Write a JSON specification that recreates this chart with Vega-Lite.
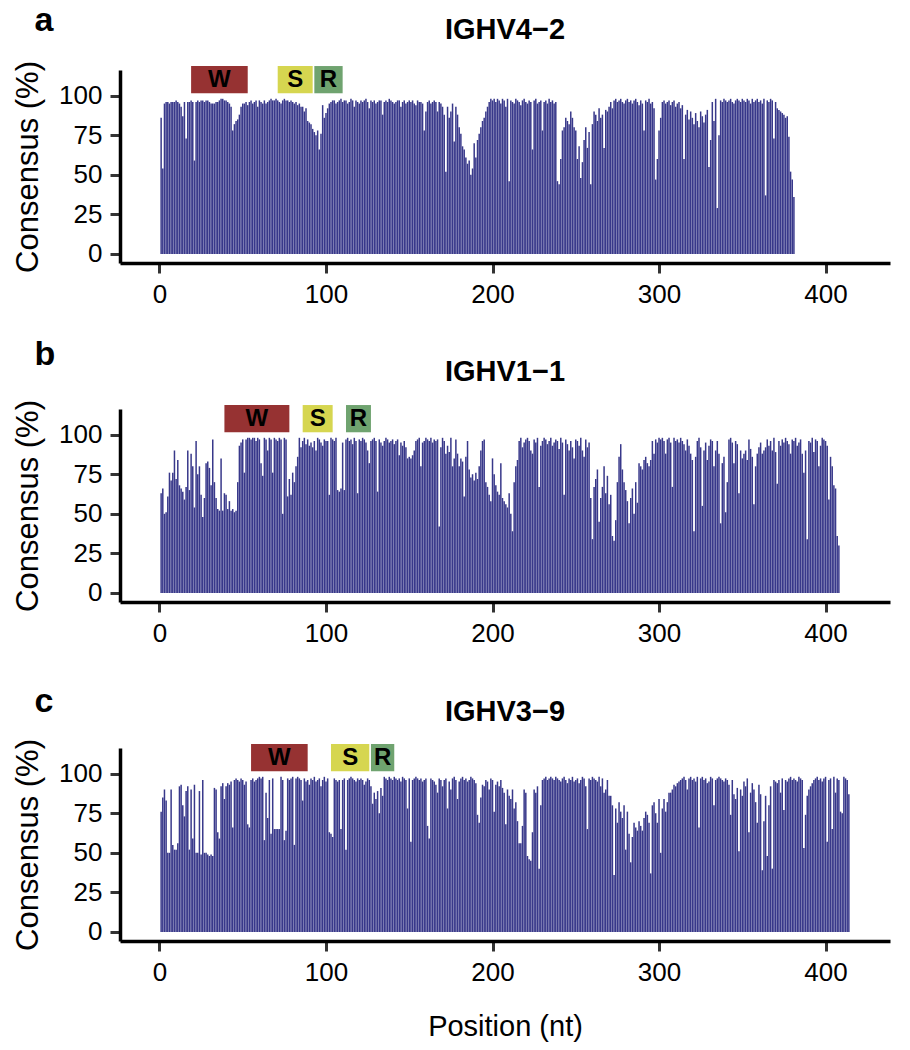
{
"$schema": "https://vega.github.io/schema/vega-lite/v6.json",
"background": "white",
"padding": {"left": 12, "top": 4, "right": 10, "bottom": 4},
"config": {
 "font": "Liberation Sans",
 "view": {"stroke": null},
 "axis": {"grid": false, "domainColor": "black", "domainWidth": 3.5, "tickColor": "#333333", "tickWidth": 3, "tickSize": 10, "labelFontSize": 26, "labelColor": "black", "labelPadding": 8, "labelFlush": false, "titleFontSize": 31, "titleFontWeight": "normal", "titleColor": "black"}
},
"datasets": {
"regions": [{"g":"a","l":"W","s":19,"e":53},{"g":"a","l":"S","s":71,"e":92},{"g":"a","l":"R","s":93,"e":110},{"g":"b","l":"W","s":39,"e":78},{"g":"b","l":"S","s":86,"e":104},{"g":"b","l":"R","s":112,"e":127},{"g":"c","l":"W","s":55,"e":89},{"g":"c","l":"S","s":103,"e":126},{"g":"c","l":"R","s":127,"e":141}],
"labels": [{"g":"a","tag":"a","gene":"IGHV4−2"},{"g":"b","tag":"b","gene":"IGHV1−1"},{"g":"c","tag":"c","gene":"IGHV3−9"}],
"a": [
{"p":1,"v":86},{"p":2,"v":54},{"p":3,"v":95},{"p":4,"v":96},{"p":5,"v":96},{"p":6,"v":95},{"p":7,"v":96},{"p":8,"v":96},{"p":9,"v":96},{"p":10,"v":97},
{"p":11,"v":96},{"p":12,"v":95},{"p":13,"v":93},{"p":14,"v":87},{"p":15,"v":96},{"p":16,"v":73},{"p":17,"v":96},{"p":18,"v":96},{"p":19,"v":97},{"p":20,"v":96},
{"p":21,"v":59},{"p":22,"v":96},{"p":23,"v":97},{"p":24,"v":96},{"p":25,"v":97},{"p":26,"v":97},{"p":27,"v":96},{"p":28,"v":97},{"p":29,"v":97},{"p":30,"v":96},
{"p":31,"v":95},{"p":32,"v":95},{"p":33,"v":95},{"p":34,"v":96},{"p":35,"v":96},{"p":36,"v":97},{"p":37,"v":98},{"p":38,"v":98},{"p":39,"v":97},{"p":40,"v":97},
{"p":41,"v":96},{"p":42,"v":95},{"p":43,"v":93},{"p":44,"v":78},{"p":45,"v":82},{"p":46,"v":84},{"p":47,"v":85},{"p":48,"v":88},{"p":49,"v":93},{"p":50,"v":95},
{"p":51,"v":95},{"p":52,"v":96},{"p":53,"v":94},{"p":54,"v":96},{"p":55,"v":97},{"p":56,"v":95},{"p":57,"v":96},{"p":58,"v":97},{"p":59,"v":93},{"p":60,"v":97},
{"p":61,"v":96},{"p":62,"v":95},{"p":63,"v":97},{"p":64,"v":95},{"p":65,"v":96},{"p":66,"v":97},{"p":67,"v":98},{"p":68,"v":97},{"p":69,"v":97},{"p":70,"v":98},
{"p":71,"v":97},{"p":72,"v":96},{"p":73,"v":95},{"p":74,"v":97},{"p":75,"v":98},{"p":76,"v":97},{"p":77,"v":97},{"p":78,"v":96},{"p":79,"v":97},{"p":80,"v":96},
{"p":81,"v":95},{"p":82,"v":96},{"p":83,"v":94},{"p":84,"v":95},{"p":85,"v":93},{"p":86,"v":93},{"p":87,"v":90},{"p":88,"v":92},{"p":89,"v":84},{"p":90,"v":83},
{"p":91,"v":82},{"p":92,"v":79},{"p":93,"v":77},{"p":94,"v":75},{"p":95,"v":78},{"p":96,"v":66},{"p":97,"v":76},{"p":98,"v":94},{"p":99,"v":86},{"p":100,"v":89},
{"p":101,"v":92},{"p":102,"v":95},{"p":103,"v":96},{"p":104,"v":97},{"p":105,"v":97},{"p":106,"v":95},{"p":107,"v":96},{"p":108,"v":97},{"p":109,"v":98},{"p":110,"v":96},
{"p":111,"v":97},{"p":112,"v":97},{"p":113,"v":95},{"p":114,"v":96},{"p":115,"v":98},{"p":116,"v":97},{"p":117,"v":93},{"p":118,"v":97},{"p":119,"v":96},{"p":120,"v":95},
{"p":121,"v":97},{"p":122,"v":96},{"p":123,"v":97},{"p":124,"v":98},{"p":125,"v":96},{"p":126,"v":92},{"p":127,"v":97},{"p":128,"v":96},{"p":129,"v":97},{"p":130,"v":95},
{"p":131,"v":96},{"p":132,"v":97},{"p":133,"v":97},{"p":134,"v":88},{"p":135,"v":96},{"p":136,"v":97},{"p":137,"v":96},{"p":138,"v":98},{"p":139,"v":97},{"p":140,"v":96},
{"p":141,"v":95},{"p":142,"v":96},{"p":143,"v":97},{"p":144,"v":97},{"p":145,"v":93},{"p":146,"v":96},{"p":147,"v":97},{"p":148,"v":95},{"p":149,"v":96},{"p":150,"v":97},
{"p":151,"v":96},{"p":152,"v":97},{"p":153,"v":95},{"p":154,"v":94},{"p":155,"v":97},{"p":156,"v":96},{"p":157,"v":96},{"p":158,"v":95},{"p":159,"v":78},{"p":160,"v":90},
{"p":161,"v":96},{"p":162,"v":97},{"p":163,"v":95},{"p":164,"v":96},{"p":165,"v":97},{"p":166,"v":96},{"p":167,"v":90},{"p":168,"v":96},{"p":169,"v":95},{"p":170,"v":93},
{"p":171,"v":88},{"p":172,"v":52},{"p":173,"v":93},{"p":174,"v":86},{"p":175,"v":90},{"p":176,"v":95},{"p":177,"v":71},{"p":178,"v":93},{"p":179,"v":88},{"p":180,"v":80},
{"p":181,"v":76},{"p":182,"v":68},{"p":183,"v":66},{"p":184,"v":61},{"p":185,"v":57},{"p":186,"v":59},{"p":187,"v":50},{"p":188,"v":54},{"p":189,"v":70},{"p":190,"v":61},
{"p":191,"v":72},{"p":192,"v":76},{"p":193,"v":80},{"p":194,"v":84},{"p":195,"v":86},{"p":196,"v":90},{"p":197,"v":93},{"p":198,"v":96},{"p":199,"v":98},{"p":200,"v":97},
{"p":201,"v":98},{"p":202,"v":96},{"p":203,"v":98},{"p":204,"v":97},{"p":205,"v":95},{"p":206,"v":98},{"p":207,"v":97},{"p":208,"v":93},{"p":209,"v":98},{"p":210,"v":46},
{"p":211,"v":97},{"p":212,"v":96},{"p":213,"v":95},{"p":214,"v":98},{"p":215,"v":97},{"p":216,"v":96},{"p":217,"v":94},{"p":218,"v":97},{"p":219,"v":98},{"p":220,"v":96},
{"p":221,"v":95},{"p":222,"v":97},{"p":223,"v":96},{"p":224,"v":66},{"p":225,"v":97},{"p":226,"v":98},{"p":227,"v":95},{"p":228,"v":96},{"p":229,"v":97},{"p":230,"v":78},
{"p":231,"v":96},{"p":232,"v":97},{"p":233,"v":95},{"p":234,"v":98},{"p":235,"v":96},{"p":236,"v":97},{"p":237,"v":95},{"p":238,"v":96},{"p":239,"v":46},{"p":240,"v":44},
{"p":241,"v":60},{"p":242,"v":78},{"p":243,"v":80},{"p":244,"v":86},{"p":245,"v":84},{"p":246,"v":82},{"p":247,"v":90},{"p":248,"v":86},{"p":249,"v":80},{"p":250,"v":78},
{"p":251,"v":60},{"p":252,"v":68},{"p":253,"v":48},{"p":254,"v":58},{"p":255,"v":72},{"p":256,"v":80},{"p":257,"v":67},{"p":258,"v":77},{"p":259,"v":44},{"p":260,"v":82},
{"p":261,"v":90},{"p":262,"v":88},{"p":263,"v":84},{"p":264,"v":92},{"p":265,"v":86},{"p":266,"v":88},{"p":267,"v":67},{"p":268,"v":91},{"p":269,"v":90},{"p":270,"v":93},
{"p":271,"v":96},{"p":272,"v":92},{"p":273,"v":97},{"p":274,"v":98},{"p":275,"v":96},{"p":276,"v":97},{"p":277,"v":98},{"p":278,"v":96},{"p":279,"v":95},{"p":280,"v":97},
{"p":281,"v":98},{"p":282,"v":96},{"p":283,"v":97},{"p":284,"v":95},{"p":285,"v":97},{"p":286,"v":98},{"p":287,"v":96},{"p":288,"v":94},{"p":289,"v":97},{"p":290,"v":95},
{"p":291,"v":78},{"p":292,"v":97},{"p":293,"v":96},{"p":294,"v":98},{"p":295,"v":95},{"p":296,"v":96},{"p":297,"v":92},{"p":298,"v":47},{"p":299,"v":60},{"p":300,"v":78},
{"p":301,"v":86},{"p":302,"v":96},{"p":303,"v":97},{"p":304,"v":95},{"p":305,"v":96},{"p":306,"v":97},{"p":307,"v":94},{"p":308,"v":96},{"p":309,"v":97},{"p":310,"v":93},
{"p":311,"v":95},{"p":312,"v":96},{"p":313,"v":92},{"p":314,"v":94},{"p":315,"v":60},{"p":316,"v":88},{"p":317,"v":91},{"p":318,"v":85},{"p":319,"v":90},{"p":320,"v":86},
{"p":321,"v":82},{"p":322,"v":89},{"p":323,"v":84},{"p":324,"v":80},{"p":325,"v":90},{"p":326,"v":87},{"p":327,"v":83},{"p":328,"v":88},{"p":329,"v":91},{"p":330,"v":55},
{"p":331,"v":72},{"p":332,"v":96},{"p":333,"v":84},{"p":334,"v":98},{"p":335,"v":29},{"p":336,"v":75},{"p":337,"v":97},{"p":338,"v":96},{"p":339,"v":98},{"p":340,"v":97},
{"p":341,"v":96},{"p":342,"v":97},{"p":343,"v":98},{"p":344,"v":96},{"p":345,"v":95},{"p":346,"v":97},{"p":347,"v":98},{"p":348,"v":97},{"p":349,"v":96},{"p":350,"v":98},
{"p":351,"v":97},{"p":352,"v":96},{"p":353,"v":98},{"p":354,"v":97},{"p":355,"v":95},{"p":356,"v":98},{"p":357,"v":96},{"p":358,"v":97},{"p":359,"v":98},{"p":360,"v":96},
{"p":361,"v":97},{"p":362,"v":95},{"p":363,"v":98},{"p":364,"v":37},{"p":365,"v":97},{"p":366,"v":96},{"p":367,"v":98},{"p":368,"v":97},{"p":369,"v":73},{"p":370,"v":96},
{"p":371,"v":92},{"p":372,"v":91},{"p":373,"v":90},{"p":374,"v":89},{"p":375,"v":88},{"p":376,"v":86},{"p":377,"v":87},{"p":378,"v":74},{"p":379,"v":52},{"p":380,"v":47},{"p":381,"v":36}
],
"b": [
{"p":1,"v":63},{"p":2,"v":66},{"p":3,"v":50},{"p":4,"v":51},{"p":5,"v":61},{"p":6,"v":76},{"p":7,"v":71},{"p":8,"v":76},{"p":9,"v":90},{"p":10,"v":72},
{"p":11,"v":84},{"p":12,"v":68},{"p":13,"v":66},{"p":14,"v":64},{"p":15,"v":59},{"p":16,"v":67},{"p":17,"v":90},{"p":18,"v":65},{"p":19,"v":88},{"p":20,"v":80},
{"p":21,"v":54},{"p":22,"v":96},{"p":23,"v":75},{"p":24,"v":80},{"p":25,"v":62},{"p":26,"v":48},{"p":27,"v":60},{"p":28,"v":82},{"p":29,"v":83},{"p":30,"v":79},
{"p":31,"v":68},{"p":32,"v":97},{"p":33,"v":70},{"p":34,"v":60},{"p":35,"v":53},{"p":36,"v":52},{"p":37,"v":85},{"p":38,"v":52},{"p":39,"v":63},{"p":40,"v":62},
{"p":41,"v":53},{"p":42,"v":58},{"p":43,"v":52},{"p":44,"v":53},{"p":45,"v":51},{"p":46,"v":52},{"p":47,"v":70},{"p":48,"v":93},{"p":49,"v":95},{"p":50,"v":97},
{"p":51,"v":76},{"p":52,"v":97},{"p":53,"v":98},{"p":54,"v":98},{"p":55,"v":97},{"p":56,"v":98},{"p":57,"v":98},{"p":58,"v":96},{"p":59,"v":98},{"p":60,"v":97},
{"p":61,"v":82},{"p":62,"v":74},{"p":63,"v":98},{"p":64,"v":97},{"p":65,"v":90},{"p":66,"v":98},{"p":67,"v":97},{"p":68,"v":76},{"p":69,"v":98},{"p":70,"v":97},
{"p":71,"v":96},{"p":72,"v":98},{"p":73,"v":97},{"p":74,"v":50},{"p":75,"v":98},{"p":76,"v":97},{"p":77,"v":61},{"p":78,"v":72},{"p":79,"v":62},{"p":80,"v":76},
{"p":81,"v":70},{"p":82,"v":80},{"p":83,"v":86},{"p":84,"v":98},{"p":85,"v":92},{"p":86,"v":96},{"p":87,"v":98},{"p":88,"v":94},{"p":89,"v":97},{"p":90,"v":93},
{"p":91,"v":95},{"p":92,"v":92},{"p":93,"v":96},{"p":94,"v":90},{"p":95,"v":98},{"p":96,"v":97},{"p":97,"v":95},{"p":98,"v":93},{"p":99,"v":97},{"p":100,"v":96},
{"p":101,"v":96},{"p":102,"v":62},{"p":103,"v":98},{"p":104,"v":97},{"p":105,"v":96},{"p":106,"v":98},{"p":107,"v":65},{"p":108,"v":64},{"p":109,"v":66},{"p":110,"v":95},
{"p":111,"v":65},{"p":112,"v":97},{"p":113,"v":98},{"p":114,"v":96},{"p":115,"v":97},{"p":116,"v":94},{"p":117,"v":98},{"p":118,"v":96},{"p":119,"v":63},{"p":120,"v":97},
{"p":121,"v":96},{"p":122,"v":98},{"p":123,"v":97},{"p":124,"v":95},{"p":125,"v":90},{"p":126,"v":82},{"p":127,"v":96},{"p":128,"v":97},{"p":129,"v":98},{"p":130,"v":96},
{"p":131,"v":64},{"p":132,"v":97},{"p":133,"v":95},{"p":134,"v":93},{"p":135,"v":96},{"p":136,"v":98},{"p":137,"v":97},{"p":138,"v":95},{"p":139,"v":96},{"p":140,"v":97},
{"p":141,"v":94},{"p":142,"v":96},{"p":143,"v":97},{"p":144,"v":87},{"p":145,"v":95},{"p":146,"v":93},{"p":147,"v":96},{"p":148,"v":92},{"p":149,"v":85},{"p":150,"v":86},
{"p":151,"v":85},{"p":152,"v":87},{"p":153,"v":90},{"p":154,"v":96},{"p":155,"v":97},{"p":156,"v":98},{"p":157,"v":80},{"p":158,"v":95},{"p":159,"v":96},{"p":160,"v":98},
{"p":161,"v":97},{"p":162,"v":96},{"p":163,"v":98},{"p":164,"v":95},{"p":165,"v":97},{"p":166,"v":96},{"p":167,"v":97},{"p":168,"v":42},{"p":169,"v":92},{"p":170,"v":98},
{"p":171,"v":96},{"p":172,"v":88},{"p":173,"v":93},{"p":174,"v":89},{"p":175,"v":98},{"p":176,"v":80},{"p":177,"v":85},{"p":178,"v":97},{"p":179,"v":88},{"p":180,"v":80},
{"p":181,"v":85},{"p":182,"v":83},{"p":183,"v":61},{"p":184,"v":86},{"p":185,"v":96},{"p":186,"v":78},{"p":187,"v":73},{"p":188,"v":75},{"p":189,"v":71},{"p":190,"v":76},
{"p":191,"v":72},{"p":192,"v":80},{"p":193,"v":90},{"p":194,"v":96},{"p":195,"v":97},{"p":196,"v":70},{"p":197,"v":67},{"p":198,"v":62},{"p":199,"v":58},{"p":200,"v":85},
{"p":201,"v":75},{"p":202,"v":68},{"p":203,"v":64},{"p":204,"v":62},{"p":205,"v":82},{"p":206,"v":60},{"p":207,"v":58},{"p":208,"v":56},{"p":209,"v":54},{"p":210,"v":63},
{"p":211,"v":50},{"p":212,"v":39},{"p":213,"v":70},{"p":214,"v":80},{"p":215,"v":84},{"p":216,"v":96},{"p":217,"v":98},{"p":218,"v":92},{"p":219,"v":95},{"p":220,"v":97},
{"p":221,"v":98},{"p":222,"v":96},{"p":223,"v":90},{"p":224,"v":88},{"p":225,"v":97},{"p":226,"v":95},{"p":227,"v":98},{"p":228,"v":67},{"p":229,"v":93},{"p":230,"v":96},
{"p":231,"v":98},{"p":232,"v":97},{"p":233,"v":94},{"p":234,"v":96},{"p":235,"v":98},{"p":236,"v":93},{"p":237,"v":95},{"p":238,"v":97},{"p":239,"v":96},{"p":240,"v":91},
{"p":241,"v":98},{"p":242,"v":95},{"p":243,"v":62},{"p":244,"v":97},{"p":245,"v":94},{"p":246,"v":90},{"p":247,"v":96},{"p":248,"v":92},{"p":249,"v":85},{"p":250,"v":97},
{"p":251,"v":96},{"p":252,"v":93},{"p":253,"v":98},{"p":254,"v":90},{"p":255,"v":86},{"p":256,"v":97},{"p":257,"v":92},{"p":258,"v":95},{"p":259,"v":60},{"p":260,"v":34},
{"p":261,"v":67},{"p":262,"v":72},{"p":263,"v":78},{"p":264,"v":45},{"p":265,"v":60},{"p":266,"v":67},{"p":267,"v":80},{"p":268,"v":63},{"p":269,"v":74},{"p":270,"v":56},
{"p":271,"v":62},{"p":272,"v":36},{"p":273,"v":33},{"p":274,"v":46},{"p":275,"v":70},{"p":276,"v":86},{"p":277,"v":94},{"p":278,"v":78},{"p":279,"v":70},{"p":280,"v":65},
{"p":281,"v":58},{"p":282,"v":44},{"p":283,"v":60},{"p":284,"v":66},{"p":285,"v":50},{"p":286,"v":70},{"p":287,"v":57},{"p":288,"v":82},{"p":289,"v":80},{"p":290,"v":78},
{"p":291,"v":84},{"p":292,"v":86},{"p":293,"v":82},{"p":294,"v":80},{"p":295,"v":84},{"p":296,"v":96},{"p":297,"v":88},{"p":298,"v":97},{"p":299,"v":95},{"p":300,"v":98},
{"p":301,"v":97},{"p":302,"v":98},{"p":303,"v":96},{"p":304,"v":88},{"p":305,"v":97},{"p":306,"v":98},{"p":307,"v":95},{"p":308,"v":67},{"p":309,"v":98},{"p":310,"v":96},
{"p":311,"v":97},{"p":312,"v":95},{"p":313,"v":98},{"p":314,"v":96},{"p":315,"v":94},{"p":316,"v":90},{"p":317,"v":97},{"p":318,"v":93},{"p":319,"v":88},{"p":320,"v":84},
{"p":321,"v":39},{"p":322,"v":86},{"p":323,"v":96},{"p":324,"v":98},{"p":325,"v":92},{"p":326,"v":55},{"p":327,"v":90},{"p":328,"v":95},{"p":329,"v":84},{"p":330,"v":93},
{"p":331,"v":97},{"p":332,"v":96},{"p":333,"v":80},{"p":334,"v":90},{"p":335,"v":96},{"p":336,"v":88},{"p":337,"v":44},{"p":338,"v":82},{"p":339,"v":86},{"p":340,"v":51},
{"p":341,"v":70},{"p":342,"v":97},{"p":343,"v":98},{"p":344,"v":95},{"p":345,"v":82},{"p":346,"v":96},{"p":347,"v":94},{"p":348,"v":63},{"p":349,"v":90},{"p":350,"v":85},
{"p":351,"v":88},{"p":352,"v":90},{"p":353,"v":84},{"p":354,"v":97},{"p":355,"v":91},{"p":356,"v":86},{"p":357,"v":56},{"p":358,"v":80},{"p":359,"v":88},{"p":360,"v":92},
{"p":361,"v":95},{"p":362,"v":88},{"p":363,"v":90},{"p":364,"v":92},{"p":365,"v":97},{"p":366,"v":93},{"p":367,"v":96},{"p":368,"v":90},{"p":369,"v":98},{"p":370,"v":89},
{"p":371,"v":69},{"p":372,"v":96},{"p":373,"v":93},{"p":374,"v":97},{"p":375,"v":95},{"p":376,"v":98},{"p":377,"v":96},{"p":378,"v":94},{"p":379,"v":88},{"p":380,"v":97},
{"p":381,"v":96},{"p":382,"v":98},{"p":383,"v":93},{"p":384,"v":95},{"p":385,"v":97},{"p":386,"v":88},{"p":387,"v":76},{"p":388,"v":90},{"p":389,"v":34},{"p":390,"v":96},
{"p":391,"v":95},{"p":392,"v":98},{"p":393,"v":89},{"p":394,"v":97},{"p":395,"v":96},{"p":396,"v":80},{"p":397,"v":93},{"p":398,"v":98},{"p":399,"v":97},{"p":400,"v":96},
{"p":401,"v":93},{"p":402,"v":59},{"p":403,"v":86},{"p":404,"v":80},{"p":405,"v":68},{"p":406,"v":66},{"p":407,"v":36},{"p":408,"v":30}
],
"c": [
{"p":1,"v":76},{"p":2,"v":85},{"p":3,"v":90},{"p":4,"v":83},{"p":5,"v":50},{"p":6,"v":50},{"p":7,"v":90},{"p":8,"v":55},{"p":9,"v":52},{"p":10,"v":52},
{"p":11,"v":56},{"p":12,"v":92},{"p":13,"v":93},{"p":14,"v":80},{"p":15,"v":73},{"p":16,"v":89},{"p":17,"v":92},{"p":18,"v":52},{"p":19,"v":90},{"p":20,"v":59},
{"p":21,"v":93},{"p":22,"v":50},{"p":23,"v":50},{"p":24,"v":89},{"p":25,"v":49},{"p":26,"v":96},{"p":27,"v":50},{"p":28,"v":50},{"p":29,"v":49},{"p":30,"v":48},
{"p":31,"v":49},{"p":32,"v":48},{"p":33,"v":91},{"p":34,"v":90},{"p":35,"v":63},{"p":36,"v":59},{"p":37,"v":92},{"p":38,"v":94},{"p":39,"v":84},{"p":40,"v":92},
{"p":41,"v":94},{"p":42,"v":93},{"p":43,"v":95},{"p":44,"v":66},{"p":45,"v":96},{"p":46,"v":97},{"p":47,"v":96},{"p":48,"v":95},{"p":49,"v":97},{"p":50,"v":96},
{"p":51,"v":93},{"p":52,"v":95},{"p":53,"v":68},{"p":54,"v":66},{"p":55,"v":96},{"p":56,"v":97},{"p":57,"v":95},{"p":58,"v":96},{"p":59,"v":97},{"p":60,"v":98},
{"p":61,"v":97},{"p":62,"v":98},{"p":63,"v":58},{"p":64,"v":88},{"p":65,"v":72},{"p":66,"v":96},{"p":67,"v":62},{"p":68,"v":97},{"p":69,"v":65},{"p":70,"v":65},
{"p":71,"v":65},{"p":72,"v":65},{"p":73,"v":98},{"p":74,"v":96},{"p":75,"v":58},{"p":76,"v":64},{"p":77,"v":97},{"p":78,"v":96},{"p":79,"v":97},{"p":80,"v":98},
{"p":81,"v":55},{"p":82,"v":97},{"p":83,"v":98},{"p":84,"v":97},{"p":85,"v":96},{"p":86,"v":83},{"p":87,"v":97},{"p":88,"v":95},{"p":89,"v":96},{"p":90,"v":93},
{"p":91,"v":97},{"p":92,"v":96},{"p":93,"v":98},{"p":94,"v":95},{"p":95,"v":96},{"p":96,"v":97},{"p":97,"v":92},{"p":98,"v":96},{"p":99,"v":98},{"p":100,"v":95},
{"p":101,"v":97},{"p":102,"v":63},{"p":103,"v":62},{"p":104,"v":60},{"p":105,"v":97},{"p":106,"v":96},{"p":107,"v":95},{"p":108,"v":96},{"p":109,"v":65},{"p":110,"v":96},
{"p":111,"v":97},{"p":112,"v":52},{"p":113,"v":96},{"p":114,"v":97},{"p":115,"v":98},{"p":116,"v":97},{"p":117,"v":96},{"p":118,"v":95},{"p":119,"v":97},{"p":120,"v":96},
{"p":121,"v":97},{"p":122,"v":96},{"p":123,"v":93},{"p":124,"v":95},{"p":125,"v":97},{"p":126,"v":96},{"p":127,"v":92},{"p":128,"v":81},{"p":129,"v":88},{"p":130,"v":84},
{"p":131,"v":89},{"p":132,"v":75},{"p":133,"v":91},{"p":134,"v":86},{"p":135,"v":98},{"p":136,"v":97},{"p":137,"v":96},{"p":138,"v":98},{"p":139,"v":97},{"p":140,"v":96},
{"p":141,"v":98},{"p":142,"v":97},{"p":143,"v":96},{"p":144,"v":97},{"p":145,"v":95},{"p":146,"v":98},{"p":147,"v":97},{"p":148,"v":96},{"p":149,"v":78},{"p":150,"v":97},
{"p":151,"v":57},{"p":152,"v":96},{"p":153,"v":97},{"p":154,"v":98},{"p":155,"v":97},{"p":156,"v":96},{"p":157,"v":97},{"p":158,"v":95},{"p":159,"v":96},{"p":160,"v":97},
{"p":161,"v":67},{"p":162,"v":59},{"p":163,"v":97},{"p":164,"v":96},{"p":165,"v":95},{"p":166,"v":93},{"p":167,"v":88},{"p":168,"v":97},{"p":169,"v":96},{"p":170,"v":92},
{"p":171,"v":96},{"p":172,"v":97},{"p":173,"v":78},{"p":174,"v":95},{"p":175,"v":90},{"p":176,"v":97},{"p":177,"v":98},{"p":178,"v":96},{"p":179,"v":84},{"p":180,"v":95},
{"p":181,"v":97},{"p":182,"v":98},{"p":183,"v":96},{"p":184,"v":97},{"p":185,"v":95},{"p":186,"v":96},{"p":187,"v":98},{"p":188,"v":97},{"p":189,"v":96},{"p":190,"v":94},
{"p":191,"v":74},{"p":192,"v":69},{"p":193,"v":85},{"p":194,"v":93},{"p":195,"v":92},{"p":196,"v":96},{"p":197,"v":95},{"p":198,"v":90},{"p":199,"v":97},{"p":200,"v":96},
{"p":201,"v":76},{"p":202,"v":93},{"p":203,"v":95},{"p":204,"v":92},{"p":205,"v":96},{"p":206,"v":91},{"p":207,"v":88},{"p":208,"v":68},{"p":209,"v":90},{"p":210,"v":86},
{"p":211,"v":84},{"p":212,"v":90},{"p":213,"v":78},{"p":214,"v":82},{"p":215,"v":70},{"p":216,"v":56},{"p":217,"v":56},{"p":218,"v":67},{"p":219,"v":90},{"p":220,"v":88},
{"p":221,"v":48},{"p":222,"v":46},{"p":223,"v":45},{"p":224,"v":63},{"p":225,"v":90},{"p":226,"v":88},{"p":227,"v":92},{"p":228,"v":40},{"p":229,"v":80},{"p":230,"v":96},
{"p":231,"v":97},{"p":232,"v":98},{"p":233,"v":96},{"p":234,"v":97},{"p":235,"v":98},{"p":236,"v":97},{"p":237,"v":96},{"p":238,"v":98},{"p":239,"v":97},{"p":240,"v":96},
{"p":241,"v":95},{"p":242,"v":97},{"p":243,"v":98},{"p":244,"v":96},{"p":245,"v":94},{"p":246,"v":97},{"p":247,"v":96},{"p":248,"v":98},{"p":249,"v":95},{"p":250,"v":96},
{"p":251,"v":97},{"p":252,"v":94},{"p":253,"v":96},{"p":254,"v":98},{"p":255,"v":97},{"p":256,"v":92},{"p":257,"v":65},{"p":258,"v":97},{"p":259,"v":96},{"p":260,"v":98},
{"p":261,"v":97},{"p":262,"v":96},{"p":263,"v":95},{"p":264,"v":98},{"p":265,"v":92},{"p":266,"v":97},{"p":267,"v":88},{"p":268,"v":90},{"p":269,"v":96},{"p":270,"v":86},
{"p":271,"v":86},{"p":272,"v":80},{"p":273,"v":36},{"p":274,"v":78},{"p":275,"v":69},{"p":276,"v":82},{"p":277,"v":76},{"p":278,"v":72},{"p":279,"v":80},{"p":280,"v":52},
{"p":281,"v":76},{"p":282,"v":62},{"p":283,"v":44},{"p":284,"v":60},{"p":285,"v":69},{"p":286,"v":66},{"p":287,"v":64},{"p":288,"v":70},{"p":289,"v":67},{"p":290,"v":64},
{"p":291,"v":72},{"p":292,"v":76},{"p":293,"v":74},{"p":294,"v":69},{"p":295,"v":37},{"p":296,"v":80},{"p":297,"v":82},{"p":298,"v":75},{"p":299,"v":69},{"p":300,"v":84},
{"p":301,"v":50},{"p":302,"v":78},{"p":303,"v":84},{"p":304,"v":76},{"p":305,"v":82},{"p":306,"v":88},{"p":307,"v":88},{"p":308,"v":90},{"p":309,"v":93},{"p":310,"v":92},
{"p":311,"v":94},{"p":312,"v":95},{"p":313,"v":96},{"p":314,"v":97},{"p":315,"v":98},{"p":316,"v":96},{"p":317,"v":90},{"p":318,"v":97},{"p":319,"v":98},{"p":320,"v":96},
{"p":321,"v":97},{"p":322,"v":95},{"p":323,"v":98},{"p":324,"v":66},{"p":325,"v":97},{"p":326,"v":98},{"p":327,"v":96},{"p":328,"v":97},{"p":329,"v":94},{"p":330,"v":95},
{"p":331,"v":98},{"p":332,"v":97},{"p":333,"v":80},{"p":334,"v":96},{"p":335,"v":97},{"p":336,"v":98},{"p":337,"v":97},{"p":338,"v":96},{"p":339,"v":95},{"p":340,"v":97},
{"p":341,"v":96},{"p":342,"v":93},{"p":343,"v":74},{"p":344,"v":96},{"p":345,"v":87},{"p":346,"v":84},{"p":347,"v":91},{"p":348,"v":51},{"p":349,"v":90},{"p":350,"v":86},
{"p":351,"v":95},{"p":352,"v":92},{"p":353,"v":97},{"p":354,"v":63},{"p":355,"v":88},{"p":356,"v":94},{"p":357,"v":90},{"p":358,"v":82},{"p":359,"v":69},{"p":360,"v":93},
{"p":361,"v":87},{"p":362,"v":39},{"p":363,"v":70},{"p":364,"v":86},{"p":365,"v":48},{"p":366,"v":80},{"p":367,"v":92},{"p":368,"v":40},{"p":369,"v":96},{"p":370,"v":95},
{"p":371,"v":94},{"p":372,"v":96},{"p":373,"v":88},{"p":374,"v":97},{"p":375,"v":77},{"p":376,"v":96},{"p":377,"v":95},{"p":378,"v":97},{"p":379,"v":98},{"p":380,"v":96},
{"p":381,"v":97},{"p":382,"v":96},{"p":383,"v":95},{"p":384,"v":98},{"p":385,"v":97},{"p":386,"v":96},{"p":387,"v":53},{"p":388,"v":74},{"p":389,"v":86},{"p":390,"v":90},
{"p":391,"v":92},{"p":392,"v":94},{"p":393,"v":96},{"p":394,"v":97},{"p":395,"v":98},{"p":396,"v":96},{"p":397,"v":97},{"p":398,"v":95},{"p":399,"v":97},{"p":400,"v":98},
{"p":401,"v":57},{"p":402,"v":96},{"p":403,"v":97},{"p":404,"v":65},{"p":405,"v":98},{"p":406,"v":88},{"p":407,"v":97},{"p":408,"v":96},{"p":409,"v":76},{"p":410,"v":75},
{"p":411,"v":98},{"p":412,"v":97},{"p":413,"v":96},{"p":414,"v":87}
]
},
"spacing": 146,
"bounds": "flush",
"vconcat": [
{
 "width": 770, "height": 193,
 "layer": [
  {"data": {"name": "a"}, "mark": {"type": "bar", "width": 1.5, "color": "#38388A"},
   "encoding": {
    "x": {"field": "p", "type": "quantitative", "scale": {"domain": [-20.7, 435.7], "nice": false, "zero": false}, "axis": {"values": [0,100,200,300,400], "title": null}},
    "y": {"field": "v", "type": "quantitative", "scale": {"domain": [-5.7, 116.2], "nice": false, "zero": false}, "axis": {"values": [0,25,50,75,100], "title": "Consensus (%)", "titlePadding": 14}}}},
  {"mark": {"type": "rule", "color": "black", "strokeWidth": 3}, "encoding": {"y": {"datum": 100}}},
  {"data": {"name": "regions"}, "transform": [{"filter": "datum.g == 'a'"}], "mark": {"type": "rect"},
   "encoding": {"x": {"field": "s", "type": "quantitative"}, "x2": {"field": "e"}, "y": {"datum": 101.5}, "y2": {"datum": 118.7},
    "color": {"field": "l", "type": "nominal", "scale": {"domain": ["W","S","R"], "range": ["#963232","#D6D650","#6FA36F"]}, "legend": null}}},
  {"data": {"name": "regions"}, "transform": [{"filter": "datum.g == 'a'"}, {"calculate": "(datum.s + datum.e) / 2", "as": "m"}], "mark": {"type": "text", "fontSize": 24, "fontWeight": "bold", "color": "black", "baseline": "middle"},
   "encoding": {"x": {"field": "m", "type": "quantitative"}, "y": {"datum": 110}, "text": {"field": "l"}}},
  {"data": {"name": "labels"}, "transform": [{"filter": "datum.g == 'a'"}], "mark": {"type": "text", "fontSize": 34, "fontWeight": "bold", "color": "black", "align": "left", "baseline": "alphabetic"},
   "encoding": {"x": {"datum": -75}, "y": {"datum": 140.6}, "text": {"field": "tag"}}},
  {"data": {"name": "labels"}, "transform": [{"filter": "datum.g == 'a'"}], "mark": {"type": "text", "fontSize": 29, "fontWeight": "bold", "color": "black", "align": "center", "baseline": "alphabetic"},
   "encoding": {"x": {"datum": 207.5}, "y": {"datum": 135.6}, "text": {"field": "gene"}}}
 ]
},
{
 "width": 770, "height": 193,
 "layer": [
  {"data": {"name": "b"}, "mark": {"type": "bar", "width": 1.5, "color": "#38388A"},
   "encoding": {
    "x": {"field": "p", "type": "quantitative", "scale": {"domain": [-20.7, 435.7], "nice": false, "zero": false}, "axis": {"values": [0,100,200,300,400], "title": null}},
    "y": {"field": "v", "type": "quantitative", "scale": {"domain": [-5.7, 116.2], "nice": false, "zero": false}, "axis": {"values": [0,25,50,75,100], "title": "Consensus (%)", "titlePadding": 14}}}},
  {"mark": {"type": "rule", "color": "black", "strokeWidth": 3}, "encoding": {"y": {"datum": 100}}},
  {"data": {"name": "regions"}, "transform": [{"filter": "datum.g == 'b'"}], "mark": {"type": "rect"},
   "encoding": {"x": {"field": "s", "type": "quantitative"}, "x2": {"field": "e"}, "y": {"datum": 101.5}, "y2": {"datum": 118.7},
    "color": {"field": "l", "type": "nominal", "scale": {"domain": ["W","S","R"], "range": ["#963232","#D6D650","#6FA36F"]}, "legend": null}}},
  {"data": {"name": "regions"}, "transform": [{"filter": "datum.g == 'b'"}, {"calculate": "(datum.s + datum.e) / 2", "as": "m"}], "mark": {"type": "text", "fontSize": 24, "fontWeight": "bold", "color": "black", "baseline": "middle"},
   "encoding": {"x": {"field": "m", "type": "quantitative"}, "y": {"datum": 110}, "text": {"field": "l"}}},
  {"data": {"name": "labels"}, "transform": [{"filter": "datum.g == 'b'"}], "mark": {"type": "text", "fontSize": 34, "fontWeight": "bold", "color": "black", "align": "left", "baseline": "alphabetic"},
   "encoding": {"x": {"datum": -75}, "y": {"datum": 144}, "text": {"field": "tag"}}},
  {"data": {"name": "labels"}, "transform": [{"filter": "datum.g == 'b'"}], "mark": {"type": "text", "fontSize": 29, "fontWeight": "bold", "color": "black", "align": "center", "baseline": "alphabetic"},
   "encoding": {"x": {"datum": 207.5}, "y": {"datum": 133.7}, "text": {"field": "gene"}}}
 ]
},
{
 "width": 770, "height": 193,
 "layer": [
  {"data": {"name": "c"}, "mark": {"type": "bar", "width": 1.5, "color": "#38388A"},
   "encoding": {
    "x": {"field": "p", "type": "quantitative", "scale": {"domain": [-20.7, 435.7], "nice": false, "zero": false}, "axis": {"values": [0,100,200,300,400], "title": "Position (nt)", "titleFontSize": 29, "titlePadding": 27}},
    "y": {"field": "v", "type": "quantitative", "scale": {"domain": [-5.7, 116.2], "nice": false, "zero": false}, "axis": {"values": [0,25,50,75,100], "title": "Consensus (%)", "titlePadding": 14}}}},
  {"mark": {"type": "rule", "color": "black", "strokeWidth": 3}, "encoding": {"y": {"datum": 100}}},
  {"data": {"name": "regions"}, "transform": [{"filter": "datum.g == 'c'"}], "mark": {"type": "rect"},
   "encoding": {"x": {"field": "s", "type": "quantitative"}, "x2": {"field": "e"}, "y": {"datum": 101.5}, "y2": {"datum": 118.7},
    "color": {"field": "l", "type": "nominal", "scale": {"domain": ["W","S","R"], "range": ["#963232","#D6D650","#6FA36F"]}, "legend": null}}},
  {"data": {"name": "regions"}, "transform": [{"filter": "datum.g == 'c'"}, {"calculate": "(datum.s + datum.e) / 2", "as": "m"}], "mark": {"type": "text", "fontSize": 24, "fontWeight": "bold", "color": "black", "baseline": "middle"},
   "encoding": {"x": {"field": "m", "type": "quantitative"}, "y": {"datum": 110}, "text": {"field": "l"}}},
  {"data": {"name": "labels"}, "transform": [{"filter": "datum.g == 'c'"}], "mark": {"type": "text", "fontSize": 34, "fontWeight": "bold", "color": "black", "align": "left", "baseline": "alphabetic"},
   "encoding": {"x": {"datum": -75}, "y": {"datum": 139.2}, "text": {"field": "tag"}}},
  {"data": {"name": "labels"}, "transform": [{"filter": "datum.g == 'c'"}], "mark": {"type": "text", "fontSize": 29, "fontWeight": "bold", "color": "black", "align": "center", "baseline": "alphabetic"},
   "encoding": {"x": {"datum": 207.5}, "y": {"datum": 133.2}, "text": {"field": "gene"}}}
 ]
}
]
}
